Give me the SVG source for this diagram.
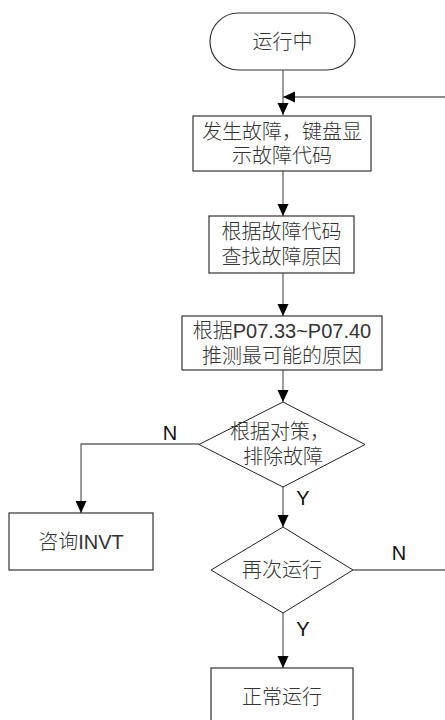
<svg xmlns="http://www.w3.org/2000/svg" width="445" height="720" viewBox="0 0 445 720">
<style>
.box{fill:#fff;stroke:#333;stroke-width:1.2}
.dia{fill:#fff;stroke:#222;stroke-width:1}
.c{fill:none;stroke:#666;stroke-width:1.3}
text{font-family:"Liberation Sans","Noto Sans CJK SC",sans-serif;font-size:20px;font-weight:300;fill:#333;text-anchor:middle}
.lbl{fill:#111;font-weight:400}
</style>
<defs>
<marker id="ah" viewBox="0 0 12 12" refX="12" refY="6" markerWidth="12" markerHeight="12" markerUnits="userSpaceOnUse" orient="auto">
<path d="M0,0.5 L12,6 L0,11.5 Z" fill="#000"/>
</marker>
</defs>
<g id="connectors">
<line class="c" x1="283" y1="70" x2="283" y2="115" marker-end="url(#ah)"/>
<line class="c" x1="283" y1="171" x2="283" y2="216" marker-end="url(#ah)"/>
<line class="c" x1="283" y1="273" x2="283" y2="316" marker-end="url(#ah)"/>
<line class="c" x1="283" y1="370" x2="283" y2="402" marker-end="url(#ah)"/>
<polyline class="c" points="199,444 81,444 81,513" marker-end="url(#ah)"/>
<line class="c" x1="283" y1="487" x2="283" y2="527" marker-end="url(#ah)"/>
<line class="c" x1="283" y1="613" x2="283" y2="668" marker-end="url(#ah)"/>
<polyline class="c" points="353,570 446,570 446,97 283,97" marker-end="url(#ah)"/>
<text class="lbl" x="170" y="440">N</text>
<text class="lbl" x="303" y="505">Y</text>
<text class="lbl" x="399" y="560">N</text>
<text class="lbl" x="303" y="636">Y</text>
</g>
<g id="start">
<rect class="box" x="210" y="13" width="145" height="57" rx="28.5"/>
<text x="282.5" y="49">运行中</text>
</g>
<g id="fault">
<rect class="box" x="193" y="116" width="178" height="55"/>
<text x="282" y="139">发生故障，键盘显</text>
<text x="282" y="163">示故障代码</text>
</g>
<g id="find">
<rect class="box" x="209" y="216" width="145" height="57"/>
<text x="281.5" y="239">根据故障代码</text>
<text x="281.5" y="264">查找故障原因</text>
</g>
<g id="guess">
<rect class="box" x="182" y="316" width="200" height="54"/>
<text x="282" y="338">根据P07.33~P07.40</text>
<text x="282" y="363">推测最可能的原因</text>
</g>
<g id="fix">
<polygon class="dia" points="283,402 365,444.5 283,487 199,444.5"/>
<text x="280" y="439">根据对策，</text>
<text x="283" y="464">排除故障</text>
</g>
<g id="invt">
<rect class="box" x="9" y="513" width="144" height="57"/>
<text x="81" y="549">咨询INVT</text>
</g>
<g id="rerun">
<polygon class="dia" points="283,527 353,570 283,613 211,570"/>
<text x="282" y="577">再次运行</text>
</g>
<g id="normal">
<rect class="box" x="211" y="668" width="142" height="60"/>
<text x="282" y="704">正常运行</text>
</g>
</svg>
